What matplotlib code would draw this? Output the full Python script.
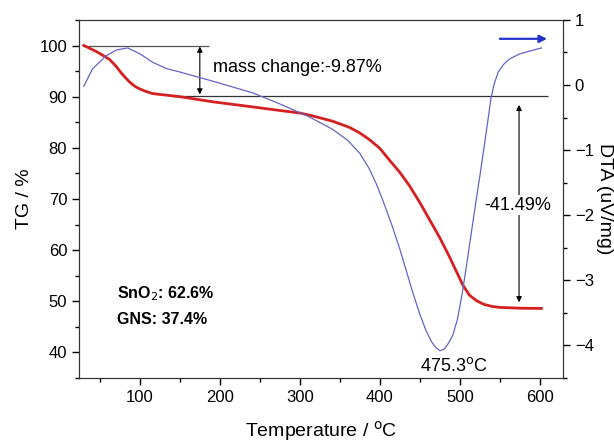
import numpy as np
import matplotlib.pyplot as plt
from matplotlib.ticker import MultipleLocator

plt.rcParams['font.family'] = ['Liberation Sans', 'DejaVu Sans']

# TG curve (mass %, left axis)
tg_temp = [30, 46, 62, 70, 78, 87, 94, 100, 108, 116, 150, 191, 241, 275, 300, 312, 341, 362,
           375, 387, 400, 412, 425, 437, 450, 462, 475, 487, 497, 504, 512, 521, 530, 540,
           550, 575, 602]
tg_mass = [100, 98.8, 97.3, 96.0, 94.4, 92.9, 92.0, 91.5, 91.0, 90.6, 90.0, 89.0, 88.0, 87.3,
           86.8, 86.4, 85.2, 84.0, 82.9, 81.6, 79.9, 77.6, 75.2, 72.6, 69.3, 66.0, 62.4,
           58.7, 55.4, 53.1, 51.2, 50.1, 49.4, 49.0, 48.8, 48.65, 48.6]

# DTA curve (uV/mg, right axis)
dta_temp = [30, 36, 41, 58, 71, 85, 100, 116, 134, 150, 191, 241, 275, 312, 341, 360, 375,
            387, 396, 404, 415, 425, 433, 441, 450, 458, 465, 470, 475, 480, 485, 491, 497,
            503, 508, 514, 520, 525, 530, 535, 539, 543, 548, 555, 562, 575, 590, 602]
dta_val = [-0.02, 0.13, 0.25, 0.45, 0.54, 0.57, 0.48, 0.35, 0.25, 0.2, 0.06, -0.12, -0.29,
           -0.49, -0.68, -0.85, -1.05, -1.29, -1.53, -1.78, -2.15, -2.52, -2.85, -3.18,
           -3.52, -3.78, -3.95, -4.03, -4.08, -4.06, -3.98, -3.85, -3.6, -3.2, -2.8, -2.3,
           -1.8, -1.4, -0.98, -0.55, -0.2, 0.02, 0.2, 0.32, 0.4, 0.48, 0.53, 0.57]

mass_start = 100.0
mass_step1 = 100.0 - 9.87
mass_final = mass_step1 - 41.49

fig = plt.figure(figsize=(6.14, 4.43), dpi=100)
ax1 = fig.add_axes([0.1287, 0.1467, 0.917 - 0.1287, 0.955 - 0.1467])
ax2 = ax1.twinx()

ax1.plot(tg_temp, tg_mass, color='#d42020', lw=2.0, zorder=3, solid_joinstyle='round')
ax2.plot(dta_temp, dta_val, color='#6464c8', lw=0.9, zorder=3, solid_joinstyle='round')

ax1.set_xlim(24, 629)
ax1.set_ylim(35, 105)
ax2.set_ylim(-4.5, 1)

# reference lines and arrows
ax1.hlines(mass_start, 29, 187, color='#555555', lw=0.9)
ax1.hlines(mass_step1, 141, 610, color='#333333', lw=0.9)
ax1.annotate('', xy=(175, mass_step1 + 0.3), xytext=(175, mass_start - 0.2),
             arrowprops=dict(arrowstyle='<|-|>', color='black', lw=0.8,
                             mutation_scale=8, shrinkA=0, shrinkB=0))
ax1.text(191, 95.7, 'mass change:-9.87%', fontsize=13, va='center', ha='left')

ax1.annotate('', xy=(574, 49.8), xytext=(574, 88.4),
             arrowprops=dict(arrowstyle='<|-|>', color='black', lw=0.8,
                             mutation_scale=8, shrinkA=0, shrinkB=0))
ax1.text(572, 68.8, '-41.49%', fontsize=13, va='center', ha='center',
         bbox=dict(facecolor='white', edgecolor='none', pad=1))

ax2.annotate('', xy=(609, 0.71), xytext=(550, 0.71),
             arrowprops=dict(arrowstyle='-|>', color='#2233cc', lw=1.6,
                             mutation_scale=11, shrinkA=0, shrinkB=0))

ax2.text(492, -4.31, '475.3$^{\\rm o}$C', fontsize=13, ha='center', va='center')

ax1.text(71, 51.4, 'SnO$_2$: 62.6%', fontsize=11.5, fontweight='bold', va='center')
ax1.text(71, 46.5, 'GNS: 37.4%', fontsize=11.5, fontweight='bold', va='center')

# ticks
ax1.xaxis.set_major_locator(MultipleLocator(100))
ax1.xaxis.set_minor_locator(MultipleLocator(50))
ax1.yaxis.set_major_locator(MultipleLocator(10))
ax1.yaxis.set_minor_locator(MultipleLocator(5))
ax2.yaxis.set_major_locator(MultipleLocator(1))
ax2.yaxis.set_minor_locator(MultipleLocator(0.5))
for ax in (ax1, ax2):
    ax.tick_params(which='major', direction='out', length=5, width=1, labelsize=12)
    ax.tick_params(which='minor', direction='out', length=3, width=1)
    for s in ax.spines.values():
        s.set_color('#333333')
ax1.tick_params(axis='x', which='both', top=False)

ax1.set_xlabel('Temperature / $^{\\rm o}$C', fontsize=14, labelpad=10)
ax1.set_ylabel('TG / %', fontsize=14, labelpad=5)
ax2.set_ylabel('DTA (uV/mg)', fontsize=14, rotation=270, labelpad=14)

fig.savefig('out.png', dpi=100)
